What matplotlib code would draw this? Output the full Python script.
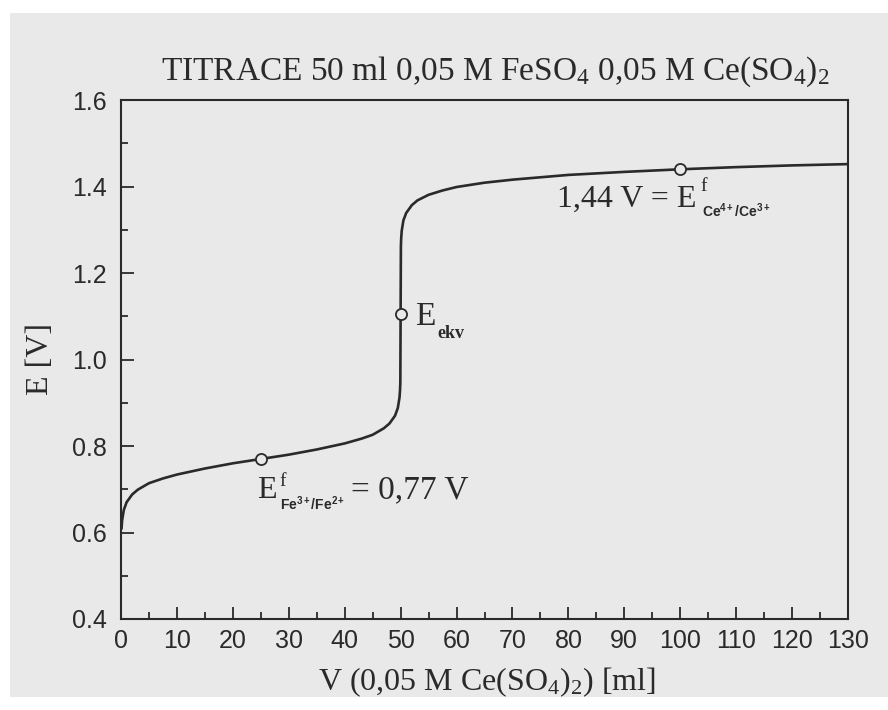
import matplotlib.pyplot as plt
from matplotlib.patches import Rectangle
from matplotlib.ticker import MultipleLocator

# titration curve, values
volume_ml = [0.1, 0.2, 0.5, 1, 2, 3, 5, 7.5, 10, 15, 20, 25, 30, 35, 40, 43, 45,
             47, 48, 49, 49.5, 49.8, 49.9, 49.95, 50, 50.05, 50.1, 50.2, 50.5,
             51, 52, 53, 55, 57.5, 60, 65, 70, 80, 90, 100, 110, 120, 130]
potential_v = [0.610, 0.628, 0.652, 0.670, 0.688, 0.699, 0.714, 0.725, 0.734,
               0.748, 0.760, 0.770, 0.780, 0.792, 0.806, 0.817, 0.826, 0.841,
               0.852, 0.870, 0.888, 0.912, 0.930, 0.948, 1.105, 1.262, 1.280,
               1.298, 1.322, 1.339, 1.357, 1.368, 1.381, 1.391, 1.399, 1.409,
               1.416, 1.427, 1.434, 1.440, 1.445, 1.449, 1.452]

# marked points: E_f(Fe), E_ekv, E_f(Ce)
mark_v = [25, 50, 100]
mark_e = [0.77, 1.105, 1.44]

x_ticks = list(range(0, 131, 10))
y_ticks = [0.4, 0.6, 0.8, 1.0, 1.2, 1.4, 1.6]

plt.rcParams['mathtext.fontset'] = 'custom'
plt.rcParams['mathtext.rm'] = 'Liberation Serif'
plt.rcParams['mathtext.it'] = 'Liberation Serif'
plt.rcParams['mathtext.bf'] = 'Liberation Serif:bold'
plt.rcParams['mathtext.sf'] = 'Liberation Sans:bold'

paper = "#e9e9e9"
ink = "#2a2a2a"
serif = "Liberation Serif"

W, H = 888, 710
fig = plt.figure(figsize=(W / 100, H / 100), dpi=100, facecolor="white")
# scanned page area
fig.patches.append(Rectangle((10 / W, 0.018), 1, 0.964, transform=fig.transFigure,
                             facecolor=paper, edgecolor="none", zorder=-10))


def put(x, y, s, **kw):
    # text placed by pixel position (from top-left), baseline anchored
    kw.setdefault("color", ink)
    kw.setdefault("va", "baseline")
    kw.setdefault("ha", "left")
    return fig.text(x / W, 1 - y / H, s, **kw)


ax = fig.add_axes([121 / W, 0.1282, 727 / W, 0.7308])
ax.set_facecolor(paper)

ax.plot(volume_ml, potential_v, color=ink, lw=1.9, zorder=2)
ax.plot(mark_v, mark_e, "o", ms=8, mfc=paper, mec=ink, mew=1.3, zorder=3)

ax.set_xlim(0, 130)
ax.set_ylim(0.4, 1.6)
ax.set_xticks(x_ticks)
ax.set_yticks(y_ticks)
ax.set_yticklabels([f"{t:.1f}" for t in y_ticks])
ax.xaxis.set_minor_locator(MultipleLocator(5))
ax.yaxis.set_minor_locator(MultipleLocator(0.1))
ax.tick_params(which="both", direction="in", top=False, right=False,
               color=ink, width=1.3, labelsize=18, labelcolor=ink)
ax.tick_params(axis="x", pad=7)
ax.tick_params(axis="y", pad=10)
ax.tick_params(which="major", length=9)
ax.tick_params(which="minor", length=5)
for lab in ax.get_xticklabels() + ax.get_yticklabels():
    lab.set_family("Liberation Sans")
for sp in ax.spines.values():
    sp.set_color(ink)
    sp.set_linewidth(1.5)

# axis labels and title
put(487, 690, r"V (0,05 M Ce(SO$_4$)$_2$) [ml]", fontsize=23, family=serif,
    ha="center")
put(40, 359, "E [V]", fontsize=23, family=serif, rotation=90, ha="center",
    va="center")
put(495, 80, r"TITRACE 50 ml 0,05 M FeSO$_4$ 0,05 M Ce(SO$_4$)$_2$",
    fontsize=24, family=serif, ha="center")

# E_f Fe3+/Fe2+
put(257, 498, "E", fontsize=23, family=serif)
put(279, 486, "f", fontsize=14, family=serif)
put(280, 510, r"$\mathsf{Fe^{3+}/Fe^{2+}}$", fontsize=10)
put(351, 498, "= 0,77 V", fontsize=24, family=serif)

# E_ekv
put(415, 325, "E", fontsize=24, family=serif)
put(437, 338, "ekv", fontsize=13, family=serif, weight="bold")

# E_f Ce4+/Ce3+
put(557, 207, "1,44 V = E", fontsize=23, family=serif)
put(700, 191, "f", fontsize=14, family=serif)
put(702, 217, r"$\mathsf{Ce^{4+}/Ce^{3+}}$", fontsize=10)

fig.savefig("out.png", dpi=100, facecolor=fig.get_facecolor())
